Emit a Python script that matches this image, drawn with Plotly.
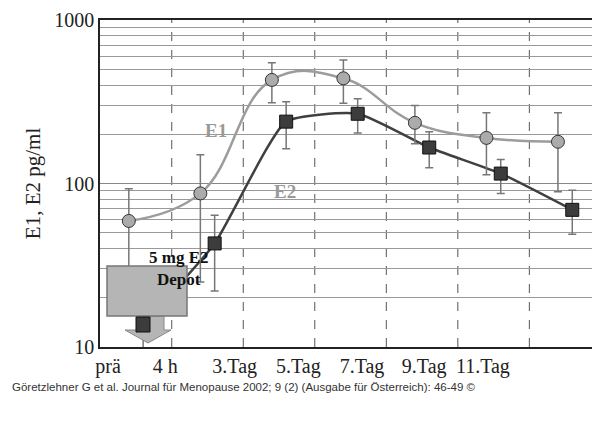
import plotly.graph_objects as go

tick_labels = ["prä", "4 h", "3.Tag", "5.Tag", "7.Tag", "9.Tag", "11.Tag"]
tick_pos = [-0.39, 0.41, 1.38, 2.27, 3.16, 4.03, 4.85]
idx = [0, 1, 2, 3, 4, 5, 6]
e1 = [59, 87, 430, 440, 235, 190, 180]
e1_hi = [93, 150, 547, 570, 300, 271, 271]
e1_lo = [25, 25, 312, 310, 175, 113, 89]
e2 = [13.8, 43, 239, 267, 166, 115, 69]
e2_hi = [16, 64, 316, 330, 207, 140, 91]
e2_lo = [9, 22, 163, 204, 125, 87, 49]

x1 = [i - 0.1 for i in idx]
x2 = [i + 0.1 for i in idx]

fig = go.Figure()
fig.add_trace(go.Scatter(x=x1, y=e1, mode="lines", line=dict(color="#9c9c9c", width=2.5, shape="spline", smoothing=1.2), hoverinfo="skip"))
fig.add_trace(go.Scatter(x=x2, y=e2, mode="lines", line=dict(color="#404040", width=2.5, shape="spline", smoothing=0.5), hoverinfo="skip"))
fig.add_trace(go.Scatter(x=x1, y=e1, mode="markers",
    marker=dict(symbol="circle", size=13, color="#ababab", line=dict(color="#333", width=1)),
    error_y=dict(type="data", symmetric=False, array=[h - v for h, v in zip(e1_hi, e1)],
                 arrayminus=[v - l for v, l in zip(e1, e1_lo)], color="#777", thickness=1.5, width=4)))
fig.add_trace(go.Scatter(x=x2, y=e2, mode="markers",
    marker=dict(symbol="square", size=13, color="#3c3c3c", line=dict(color="#111", width=1)),
    error_y=dict(type="data", symmetric=False, array=[h - v for h, v in zip(e2_hi, e2)],
                 arrayminus=[v - l for v, l in zip(e2, e2_lo)], color="#777", thickness=1.5, width=4)))

shapes = []
for b in [0.5, 1.5, 2.5, 3.5, 4.5, 5.5]:
    shapes.append(dict(type="line", xref="x", yref="paper", x0=b, x1=b, y0=0, y1=1,
                       line=dict(color="#555", width=1, dash="dash"), layer="below"))
def px(x): return (x - 92) / 493
def py(y): return (339 - y) / 327
path = (f"M{px(130)},{py(308)} L{px(156)},{py(308)} L{px(156)},{py(322)} L{px(163)},{py(322)} "
        f"L{px(140)},{py(335)} L{px(117)},{py(322)} L{px(130)},{py(322)} Z")
shapes.append(dict(type="path", xref="paper", yref="paper", path=path, fillcolor="#b5b5b5", line=dict(color="#888", width=1)))
shapes.append(dict(type="rect", xref="paper", yref="paper", x0=px(99), x1=px(179), y0=py(308), y1=py(258),
                   fillcolor="#b5b5b5", line=dict(color="#777", width=1.5)))
shapes.append(dict(type="rect", xref="paper", yref="paper", x0=px(128), x1=px(142), y0=py(324), y1=py(309),
                   fillcolor="#3c3c3c", line=dict(color="#111", width=1)))

annotations = [
    dict(xref="paper", yref="paper", x=px(139), y=py(283), text="<b>5 mg E2<br>Depot</b>", showarrow=False,
         font=dict(family="Liberation Serif", size=17, color="#111")),
    dict(xref="paper", yref="paper", x=px(195), y=py(123), text="<b>E1</b>", showarrow=False,
         font=dict(family="Liberation Serif", size=19, color="#999")),
    dict(xref="paper", yref="paper", x=px(277), y=py(183), text="<b>E2</b>", showarrow=False,
         font=dict(family="Liberation Serif", size=19, color="#999")),
    dict(xref="paper", yref="paper", x=px(2), y=py(387), xanchor="left", text="Göretzlehner G et al. Journal für Menopause 2002; 9 (2) (Ausgabe für Österreich): 46-49 ©",
         showarrow=False, font=dict(family="Liberation Sans", size=11.5, color="#333")),
]

fig.update_layout(
    width=600, height=434, margin=dict(l=92, r=15, t=12, b=95, autoexpand=False),
    paper_bgcolor="white", plot_bgcolor="white", showlegend=False,
    shapes=shapes, annotations=annotations,
    font=dict(family="Liberation Serif", color="#222"),
    xaxis=dict(range=[-0.503, 6.39], tickvals=tick_pos, ticktext=tick_labels, showgrid=False, zeroline=False,
               showline=True, linecolor="#222", linewidth=1.5, mirror=True, ticks="", automargin=False,
               tickfont=dict(size=20, family="Liberation Serif")),
    yaxis=dict(type="log", range=[1, 3], tickvals=[10, 100, 1000], ticktext=["10", "100", "1000"],
               showline=True, linecolor="#222", linewidth=1.5, mirror=True, ticks="", automargin=False,
               showgrid=True, gridcolor="#888", gridwidth=1,
               minor=dict(tickvals=[a * 10 ** d for d in (1, 2) for a in range(2, 10)], showgrid=True, gridcolor="#999", gridwidth=1),
               tickfont=dict(size=20, family="Liberation Serif"),
               title=dict(text="E1, E2 pg/ml", font=dict(size=21, family="Liberation Serif"), standoff=8)),
)
fig.write_html("out.html")
